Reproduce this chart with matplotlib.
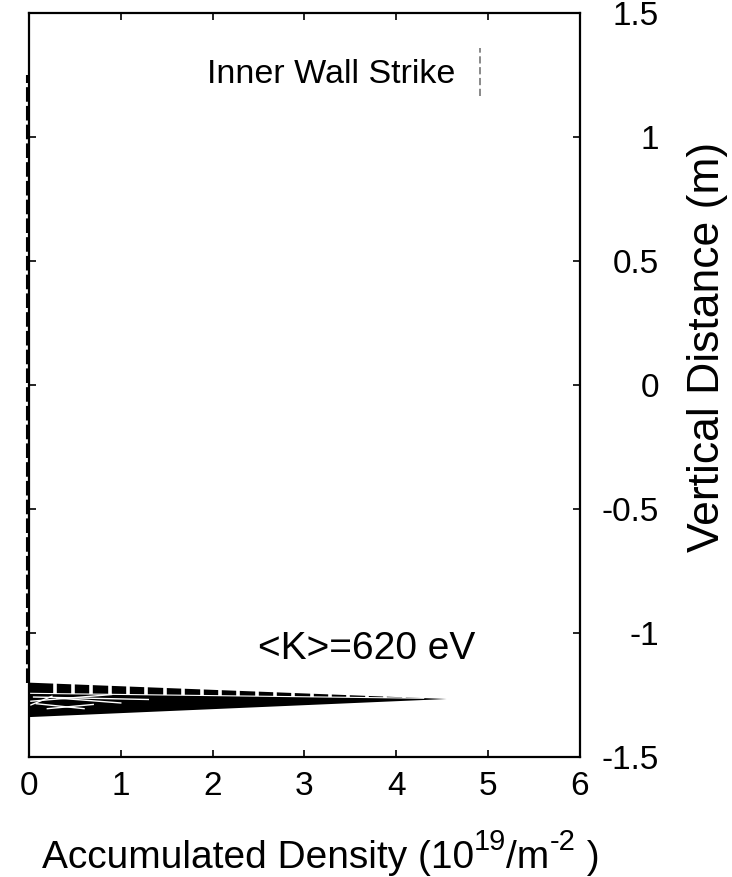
import matplotlib
matplotlib.use("Agg")
import numpy as np
import matplotlib.pyplot as plt
from matplotlib.transforms import offset_copy

plt.rcParams['font.family'] = ['Liberation Sans', 'DejaVu Sans']

# wedge of accumulated density profiles near the divertor
wedge_x = [0.0, 4.55, 0.0]
wedge_y = [-1.200, -1.266, -1.339]

# thin white line under the dashed top band
band_x = [0.0, 4.3]
band_y = [-1.243, -1.263]

# white gaps in the dashed top band
gap_x = [0.28, 0.48, 0.68, 0.88, 1.08, 1.28, 1.48, 1.68, 1.88, 2.08,
         2.28, 2.48, 2.68, 2.88, 3.08, 3.28, 3.48, 3.68, 3.88, 4.08]

# white scribbles inside the wedge (left end)
scribble_x = [[0.02, 0.9], [0.08, 0.6], [0.05, 1.3], [0.2, 0.7], [0.02, 0.25], [0.3, 1.0]]
scribble_y = [[-1.275, -1.248], [-1.285, -1.305], [-1.258, -1.268],
              [-1.305, -1.288], [-1.29, -1.255], [-1.262, -1.282]]

# inner wall strike trace
wall_x = [-0.02, -0.02]
wall_y = [-1.2, 1.25]

xticks = [0, 1, 2, 3, 4, 5, 6]
yticks = [-1.5, -1, -0.5, 0, 0.5, 1, 1.5]
yticklabels = ['-1.5', '-1', '-0.5', '0', '0.5', '1', '1.5']

# x label pieces: (text, fontsize, raise in points)
xlabel_parts = [('Accumulated Density (10', 28, 0), ('19', 21, 13),
                ('/m', 28, 0), ('-2', 21, 13), (' )', 28, 0)]

fig = plt.figure(figsize=(7.32, 8.77), dpi=100)
ax = fig.add_axes([0.0396, 0.1368, 0.7524, 0.8482])

ax.fill(wedge_x, wedge_y, color='black', lw=0)
ax.plot(band_x, band_y, color='white', lw=0.8)
gap_top = np.interp(gap_x, wedge_x[:2], wedge_y[:2])
gap_bot = np.interp(gap_x, band_x, band_y)
ax.vlines(gap_x, gap_bot, gap_top + 0.01, color='white', lw=2.6)
for sx, sy in zip(scribble_x, scribble_y):
    ax.plot(sx, sy, color='white', lw=1.0)

ax.plot(wall_x, wall_y, color='black', lw=1.5, dashes=(7, 2), clip_on=False)

ax.set_xlim(0, 6)
ax.set_ylim(-1.5, 1.5)
ax.set_xticks(xticks)
ax.set_yticks(yticks)
ax.set_yticklabels(yticklabels)
ax.yaxis.tick_right()
ax.tick_params(direction='in', length=5, width=1.2, top=True, bottom=True,
               left=True, right=True, labelsize=24)
ax.tick_params(axis='x', pad=10)
ax.tick_params(axis='y', pad=57)
for lab in ax.get_yticklabels():
    lab.set_horizontalalignment('right')
for sp in ax.spines.values():
    sp.set_linewidth(1.6)

# x label built from pieces so the superscripts can be sized like the original
renderer = fig.canvas.get_renderer()
x0, base = 42 / 732, 9 / 877
trans = fig.transFigure
for txt, fs, rise in xlabel_parts:
    t = fig.text(x0, base, txt, fontsize=fs, ha='left', va='baseline',
                 transform=offset_copy(trans, fig=fig, y=rise, units='points'))
    bb = t.get_window_extent(renderer)
    x0 = (bb.x1) / fig.bbox.width

fig.text(708 / 732, 1 - 347 / 877, 'Vertical Distance (m)', fontsize=32,
         rotation=90, ha='center', va='center')

ax.text(0.323, 0.918, 'Inner Wall Strike', transform=ax.transAxes,
        fontsize=24.5, va='center', ha='left')
ax.plot([0.819, 0.819], [0.888, 0.953], transform=ax.transAxes, color='gray',
        lw=1.3, dashes=(4, 2))
ax.text(2.5, -1.065, '<K>=620 eV', fontsize=28, va='center', ha='left')

fig.savefig('out.png', dpi=100)
